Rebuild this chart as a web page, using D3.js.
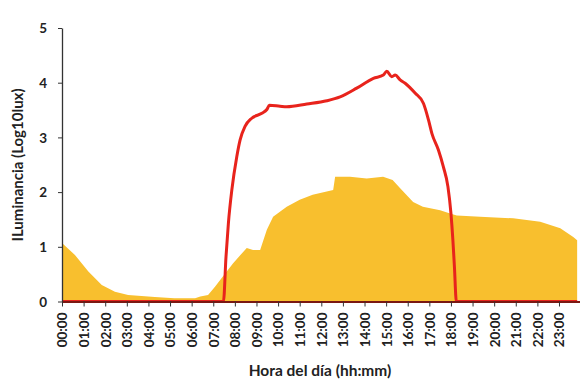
<!DOCTYPE html>
<html>
<head>
<meta charset="utf-8">
<script src="https://cdn.jsdelivr.net/npm/d3@7"></script>
<style>
  html, body { margin: 0; padding: 0; background: #fff; }
  svg { display: block; }
  text { font-family: Lato, "Open Sans", "Liberation Sans", sans-serif; font-weight: bold; fill: #222; }
</style>
</head>
<body>
<script>
// Hours of the day (decimal) and ambient illuminance, log10(lux)
const ambientHours = [0.0, 0.6, 1.22, 1.84, 2.45, 3.06, 4.3, 5.2, 6.16, 6.4, 6.76, 7.08, 7.39, 7.92, 8.55, 8.84, 9.17, 9.48, 9.77, 10.4, 11.0, 11.6, 12.25, 12.55, 12.64, 13.33, 14.1, 14.86, 15.3, 15.65, 16.25, 16.7, 17.5, 17.96, 18.27, 19.35, 20.88, 22.13, 23.06, 23.66, 23.84];
const ambientLux   = [1.07, 0.85, 0.55, 0.30, 0.18, 0.12, 0.08, 0.06, 0.06, 0.09, 0.12, 0.27, 0.43, 0.70, 0.98, 0.94, 0.94, 1.31, 1.55, 1.73, 1.86, 1.95, 2.01, 2.04, 2.28, 2.28, 2.25, 2.28, 2.22, 2.07, 1.82, 1.73, 1.67, 1.61, 1.57, 1.55, 1.52, 1.46, 1.34, 1.18, 1.12];

// Hours of the day (decimal) and sensor illuminance, log10(lux)
const sensorHours = [0.0, 7.47, 7.59, 7.70, 7.86, 8.09, 8.24, 8.47, 8.78, 9.25, 9.48, 9.60, 10.09, 10.4, 11.33, 12.26, 12.87, 13.64, 14.41, 14.87, 15.03, 15.26, 15.42, 15.65, 15.88, 16.34, 16.73, 16.96, 17.12, 17.42, 17.65, 17.86, 18.0, 18.09, 18.16, 18.25, 23.84];
const sensorLux   = [0, 0, 0.82, 1.43, 2.04, 2.65, 2.95, 3.20, 3.35, 3.44, 3.51, 3.59, 3.57, 3.56, 3.61, 3.67, 3.74, 3.90, 4.08, 4.14, 4.21, 4.11, 4.14, 4.05, 3.99, 3.81, 3.62, 3.32, 3.07, 2.77, 2.46, 2.10, 1.61, 1.12, 0.64, 0, 0];

const hourTicks = d3.range(0, 24);
const luxTicks = [0, 1, 2, 3, 4, 5];
const xTitle = "Hora del día (hh:mm)";
const yTitle = "ILuminancia (Log10lux)";

const W = 580, H = 381;
const svg = d3.select("body").append("svg").attr("width", W).attr("height", H);

const x = d3.scaleLinear().domain([0, 24]).range([62, 580.6]);
const y = d3.scaleLinear().domain([0, 5]).range([301.5, 28]);

const ambient = ambientHours.map((h, i) => [h, ambientLux[i]]);
const sensor = sensorHours.map((h, i) => [h, sensorLux[i]]);

// Ambient illuminance as a filled area
svg.append("path")
  .datum(ambient)
  .attr("fill", "#F8BF2E")
  .attr("d", d3.area().x(d => x(d[0])).y0(y(0)).y1(d => y(d[1])));

// Sensor illuminance as a red line
svg.append("path")
  .datum(sensor)
  .attr("fill", "none")
  .attr("stroke", "#E8231C")
  .attr("stroke-width", 3)
  .attr("stroke-linejoin", "round")
  .attr("d", d3.line().curve(d3.curveMonotoneX).x(d => x(d[0])).y(d => y(d[1])));

// Y axis
const yAxis = svg.append("g")
  .attr("transform", `translate(${x(0)},0)`)
  .call(d3.axisLeft(y).tickValues(luxTicks).tickFormat(d3.format("d")).tickSize(4).tickSizeOuter(0));
yAxis.select(".domain").attr("stroke", "#333").attr("stroke-width", 1.3);
yAxis.selectAll(".tick line").attr("stroke", "#333");
yAxis.selectAll(".tick text").attr("x", -15).attr("dy", "0.35em").style("font-size", "13.5px");

// X axis
const xAxis = svg.append("g")
  .attr("transform", `translate(0,${y(0)})`)
  .call(d3.axisBottom(x).tickValues(hourTicks)
    .tickFormat(h => String(h).padStart(2, "0") + ":00").tickSize(5).tickSizeOuter(0));
xAxis.select(".domain").attr("stroke", "#7a1812").attr("stroke-width", 2);
xAxis.selectAll(".tick line").attr("stroke", "#333");
xAxis.selectAll(".tick text")
  .attr("transform", "rotate(-90)")
  .attr("text-anchor", "end")
  .attr("x", -11)
  .attr("y", 0)
  .attr("dy", "0.36em")
  .style("font-size", "13.5px");

svg.selectAll(".tick text").attr("fill", "#222");

// Axis titles
svg.append("text")
  .attr("x", 320).attr("y", 376)
  .attr("text-anchor", "middle")
  .style("font-size", "15.5px")
  .text(xTitle);

svg.append("text")
  .attr("transform", "translate(23,165) rotate(-90)")
  .attr("text-anchor", "middle")
  .style("font-size", "15px")
  .text(yTitle);
</script>
</body>
</html>
